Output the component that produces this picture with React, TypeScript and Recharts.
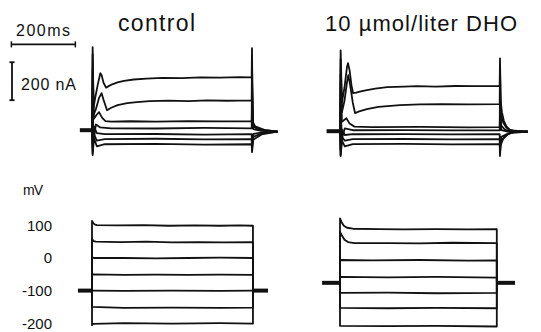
import React from 'react';
import { LineChart, Line, XAxis, YAxis, ReferenceLine } from 'recharts';

// Membrane currents: [time in ms after step onset, current in nA relative to holding]
const CONTROL_I_1 = [[0,0],[2,437],[5,120],[10,170],[18,240],[26,300],[30,290],[36,250],[44,224],[52,232],[65,243],[80,252],[100,260],[130,267],[170,272],[220,276],[280,274],[340,278],[400,277],[460,279],[499,278],[500,432],[502,45],[510,20],[540,0],[580,-8]];
const CONTROL_I_2 = [[0,0],[2,400],[5,80],[12,110],[22,170],[30,195],[36,160],[47,105],[60,118],[80,132],[110,142],[140,148],[180,153],[240,156],[300,153],[360,157],[420,155],[499,157],[500,350],[503,30],[512,12],[540,-2],[580,-8]];
const CONTROL_I_3 = [[0,0],[2,320],[6,60],[14,80],[22,95],[32,65],[42,48],[60,45],[120,47],[200,45],[300,48],[400,46],[499,46],[500,250],[504,20],[520,5],[580,-8]];
const CONTROL_I_4 = [[0,0],[2,150],[5,-60],[12,30],[25,15],[60,10],[200,9],[350,12],[499,10],[500,120],[504,5],[530,-4],[580,-8]];
const CONTROL_I_5 = [[0,0],[2,-90],[6,20],[15,-15],[40,-21],[200,-20],[350,-23],[499,-21],[500,-80],[504,-20],[530,-12],[580,-8]];
const CONTROL_I_6 = [[0,0],[2,-120],[6,-20],[15,-55],[40,-47],[200,-45],[350,-48],[499,-47],[500,-100],[504,-35],[530,-18],[580,-8]];
const CONTROL_I_7 = [[0,0],[2,-131],[6,-40],[15,-85],[40,-74],[200,-72],[350,-76],[499,-74],[500,-116],[504,-50],[530,-22],[580,-8]];

const DHO_I_1 = [[0,0],[2,426],[6,150],[14,230],[22,340],[25,358],[30,320],[36,240],[41,200],[50,203],[65,210],[84,216],[110,224],[147,232],[200,235],[240,237],[300,235],[360,238],[420,237],[499,238],[500,384],[502,160],[506,100],[512,55],[520,25],[530,8],[545,0],[587,-3]];
const DHO_I_2 = [[0,0],[2,380],[6,100],[14,160],[22,260],[26,295],[32,240],[40,150],[47,95],[60,104],[84,116],[120,128],[187,137],[250,141],[320,143],[400,141],[499,143],[500,330],[503,90],[510,45],[520,18],[535,4],[587,-3]];
const DHO_I_3 = [[0,0],[2,300],[6,50],[14,60],[20,68],[30,40],[45,24],[100,21],[250,23],[400,20],[499,21],[500,200],[504,30],[515,8],[535,0],[587,-3]];
const DHO_I_4 = [[0,0],[2,120],[6,-40],[15,15],[40,5],[200,6],[350,4],[499,5],[500,90],[504,5],[525,-2],[587,-3]];
const DHO_I_5 = [[0,0],[2,-100],[6,10],[15,-20],[40,-16],[200,-15],[350,-17],[499,-16],[500,-90],[504,-30],[530,-8],[587,-3]];
const DHO_I_6 = [[0,0],[2,-125],[6,-30],[15,-50],[40,-42],[200,-41],[350,-43],[499,-42],[500,-110],[503,-55],[515,-25],[535,-8],[587,-3]];
const DHO_I_7 = [[0,0],[2,-131],[6,-50],[15,-80],[40,-68],[200,-67],[350,-69],[499,-68],[500,-131],[502,-75],[510,-40],[525,-15],[545,-5],[587,-3]];

// Command potentials: [time in ms, membrane potential in mV]
const CONTROL_HOLD = -100;
const CONTROL_V_1 = [[0,-100],[0,114],[3,109],[8,103],[15,101],[80,100],[160,101],[240,99],[320,100],[400,99],[460,100],[503,99],[503,-100]];
const CONTROL_V_2 = [[0,-100],[0,58],[5,52],[12,50],[90,49],[170,50],[250,48],[330,49],[410,48],[503,49],[503,-100]];
const CONTROL_V_3 = [[0,-100],[0,3],[6,0],[100,0],[200,-1],[300,0],[400,1],[503,0],[503,-100]];
const CONTROL_V_4 = [[0,-100],[0,-50],[100,-52],[200,-51],[300,-52],[400,-51],[503,-52],[503,-100]];
const CONTROL_V_5 = [[0,-100],[100,-101],[250,-100],[400,-101],[503,-100]];
const CONTROL_V_6 = [[0,-100],[0,-150],[100,-153],[250,-152],[400,-153],[503,-152],[503,-100]];
const CONTROL_V_7 = [[0,-100],[0,-206],[4,-202],[100,-200],[250,-201],[400,-200],[503,-201],[503,-100]];

const DHO_HOLD = -70;
const DHO_V_1 = [[0,-70],[0,128],[5,116],[12,105],[22,99],[40,96],[120,95],[200,94],[300,95],[400,94],[490,95],[490,-70]];
const DHO_V_2 = [[0,-70],[0,86],[6,75],[14,62],[25,55],[45,52],[150,52],[250,51],[350,53],[490,52],[490,-70]];
const DHO_V_3 = [[0,-70],[0,0],[100,-1],[250,0],[400,-2],[490,-1],[490,-70]];
const DHO_V_4 = [[0,-70],[0,-52],[150,-53],[300,-52],[490,-54],[490,-70]];
const DHO_V_5 = [[0,-70],[0,-101],[150,-100],[300,-102],[490,-101],[490,-70]];
const DHO_V_6 = [[0,-70],[0,-147],[150,-148],[300,-147],[490,-148],[490,-70]];
const DHO_V_7 = [[0,-70],[0,-202],[150,-203],[300,-202],[490,-204],[490,-70]];

const MV_TICKS = [100, 0, -100, -200];
const SCALE_MS = 200;
const SCALE_NA = 200;

const CONTROL_I = [CONTROL_I_1, CONTROL_I_2, CONTROL_I_3, CONTROL_I_4, CONTROL_I_5, CONTROL_I_6, CONTROL_I_7];
const DHO_I = [DHO_I_1, DHO_I_2, DHO_I_3, DHO_I_4, DHO_I_5, DHO_I_6, DHO_I_7];
const CONTROL_V = [CONTROL_V_1, CONTROL_V_2, CONTROL_V_3, CONTROL_V_4, CONTROL_V_5, CONTROL_V_6, CONTROL_V_7];
const DHO_V = [DHO_V_1, DHO_V_2, DHO_V_3, DHO_V_4, DHO_V_5, DHO_V_6, DHO_V_7];

const FONT = "'Liberation Sans', Arial, sans-serif";
const INK = '#111';

const toPts = (a: number[][]) => a.map(([t, v]) => ({ t, v }));

const trace = (d: number[][], key: string, w = 1.8) => (
  <Line
    key={key}
    data={toPts(d)}
    dataKey="v"
    type="linear"
    stroke={INK}
    strokeWidth={w}
    dot={false}
    activeDot={false}
    isAnimationActive={false}
    strokeLinejoin="round"
  />
);

const I_DOMAIN: [number, number] = [-157, 475];
const V_DOMAIN: [number, number] = [-227, 132];
const M0 = { top: 0, right: 0, bottom: 0, left: 0 };

const abs = (left: number, top: number): React.CSSProperties => ({ position: 'absolute', left, top });

export default function App() {
  const barT0 = -252;
  const barI = 452;
  return (
    <div style={{ position: 'absolute', left: 0, top: 0, width: 541, height: 332, overflow: 'hidden', background: '#fff' }}>
      {/* control currents, with time and current scale bars */}
      <div style={abs(4, 40)}>
        <LineChart width={296} height={120} margin={M0}>
          <XAxis type="number" dataKey="t" domain={[-275, 650]} hide allowDataOverflow />
          <YAxis type="number" domain={I_DOMAIN} hide allowDataOverflow />
          {trace([[-38, 0], [0, 0]], 'ch', 4)}
          {CONTROL_I.map((d, i) => trace(d, 'ci' + i))}
          <ReferenceLine segment={[{ x: barT0, y: barI }, { x: barT0 + SCALE_MS, y: barI }]} stroke={INK} strokeWidth={1.8} ifOverflow="visible" />
          <ReferenceLine segment={[{ x: barT0, y: barI - 16 }, { x: barT0, y: barI + 16 }]} stroke={INK} strokeWidth={1.5} ifOverflow="visible" />
          <ReferenceLine segment={[{ x: barT0 + SCALE_MS, y: barI - 16 }, { x: barT0 + SCALE_MS, y: barI + 16 }]} stroke={INK} strokeWidth={1.5} ifOverflow="visible" />
          <ReferenceLine segment={[{ x: -250, y: 158 }, { x: -250, y: 158 + SCALE_NA }]} stroke={INK} strokeWidth={1.8} ifOverflow="visible" />
          <ReferenceLine segment={[{ x: -258, y: 158 }, { x: -242, y: 158 }]} stroke={INK} strokeWidth={1.8} ifOverflow="visible" />
          <ReferenceLine segment={[{ x: -258, y: 158 + SCALE_NA }, { x: -242, y: 158 + SCALE_NA }]} stroke={INK} strokeWidth={1.8} ifOverflow="visible" />
        </LineChart>
      </div>

      {/* DHO currents */}
      <div style={abs(308, 41)}>
        <LineChart width={230} height={120} margin={M0}>
          <XAxis type="number" dataKey="t" domain={[-100, 618.75]} hide allowDataOverflow />
          <YAxis type="number" domain={I_DOMAIN} hide allowDataOverflow />
          {trace([[-42, 0], [0, 0]], 'dh', 4)}
          {DHO_I.map((d, i) => trace(d, 'di' + i))}
        </LineChart>
      </div>

      {/* control command potentials */}
      <div style={abs(20, 215)}>
        <LineChart width={280} height={117} margin={M0}>
          <XAxis type="number" dataKey="t" domain={[-100, 650]} hide allowDataOverflow />
          <YAxis
            type="number"
            domain={V_DOMAIN}
            ticks={MV_TICKS}
            width={40}
            axisLine={false}
            tickLine={false}
            allowDataOverflow
            interval={0}
            tick={{ fill: INK, fontSize: 15, fontFamily: FONT }}
          />
          {trace([[-44, CONTROL_HOLD], [0, CONTROL_HOLD]], 'cvh', 4)}
          {trace([[503, CONTROL_HOLD], [550, CONTROL_HOLD]], 'cvt', 4)}
          {CONTROL_V.map((d, i) => trace(d, 'cv' + i))}
        </LineChart>
      </div>

      {/* DHO command potentials */}
      <div style={abs(308, 217)}>
        <LineChart width={230} height={117} margin={M0}>
          <XAxis type="number" dataKey="t" domain={[-100, 618.75]} hide allowDataOverflow />
          <YAxis type="number" domain={V_DOMAIN} hide allowDataOverflow />
          {trace([[-56, DHO_HOLD], [0, DHO_HOLD]], 'dvh', 4)}
          {trace([[490, DHO_HOLD], [547, DHO_HOLD]], 'dvt', 4)}
          {DHO_V.map((d, i) => trace(d, 'dv' + i))}
        </LineChart>
      </div>

      <svg width={541} height={332} style={{ position: 'absolute', left: 0, top: 0, pointerEvents: 'none' }}>
        <g fill={INK} fontFamily={FONT}>
          <text x={118} y={31} fontSize={23} textLength={77}>control</text>
          <text x={325} y={31} fontSize={22} textLength={192}>10 µmol/liter DHO</text>
          <text x={16} y={36} fontSize={16} textLength={54}>200ms</text>
          <text x={21} y={90} fontSize={16} textLength={55}>200 nA</text>
          <text x={23} y={195} fontSize={14} textLength={20}>mV</text>
        </g>
      </svg>
    </div>
  );
}
